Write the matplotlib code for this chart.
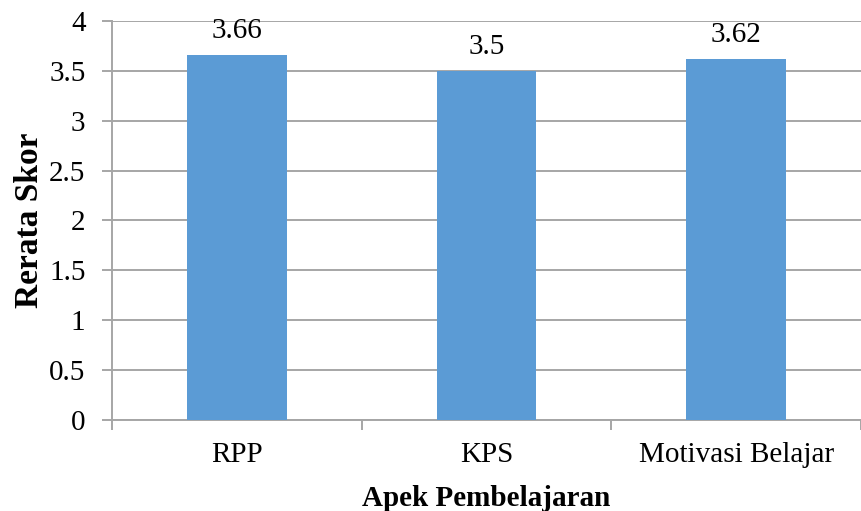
import matplotlib.pyplot as plt
import numpy as np

aspek = ["RPP", "KPS", "Motivasi Belajar"]
skor = [3.66, 3.5, 3.62]
label_skor = ["3.66", "3.5", "3.62"]
yticks = [0, 0.5, 1, 1.5, 2, 2.5, 3, 3.5, 4]
ytick_labels = ["0", "0.5", "1", "1.5", "2", "2.5", "3", "3.5", "4"]

plt.rcParams["font.family"] = ["Liberation Serif", "DejaVu Serif"]
grey = "#a6a6a6"

fig = plt.figure(figsize=(8.61, 5.11), dpi=100, facecolor="w")
ax = fig.add_axes([0.130, 0.178, 0.870, 0.781])

x = np.arange(len(aspek))
bars = ax.bar(x, skor, width=0.4, color="#5b9bd5", zorder=3)
for b, t in zip(bars, label_skor):
    ax.annotate(t, (b.get_x() + b.get_width() / 2, b.get_height()),
                xytext=(0, 12), textcoords="offset points",
                ha="center", va="baseline", fontsize=21)

ax.set_ylim(0, 4)
ax.set_xlim(-0.5, 2.5 - 4 / 251)
ax.set_yticks(yticks)
ax.set_yticklabels(ytick_labels, fontsize=21)
ax.yaxis.grid(True, color=grey, linewidth=1.4, zorder=0)
ax.tick_params(axis="y", length=7, width=1.4, color=grey, pad=12)

# category labels centred, tick marks on category boundaries
ax.set_xticks(x)
ax.set_xticklabels(aspek, fontsize=21)
ax.tick_params(axis="x", length=0, pad=16)
ax.set_xticks(np.arange(-0.5, 3.0, 1.0), minor=True)
ax.tick_params(axis="x", which="minor", length=7, width=1.4, color=grey)

for s in ["top", "right"]:
    ax.spines[s].set_visible(False)
for s in ["left", "bottom"]:
    ax.spines[s].set_color(grey)
    ax.spines[s].set_linewidth(1.4)

ax.set_ylabel("Rerata Skor", fontsize=24, fontweight="bold", labelpad=3)
ax.set_xlabel("Apek Pembelajaran", fontsize=21, fontweight="bold", labelpad=12)

fig.savefig("out.png", dpi=100)
